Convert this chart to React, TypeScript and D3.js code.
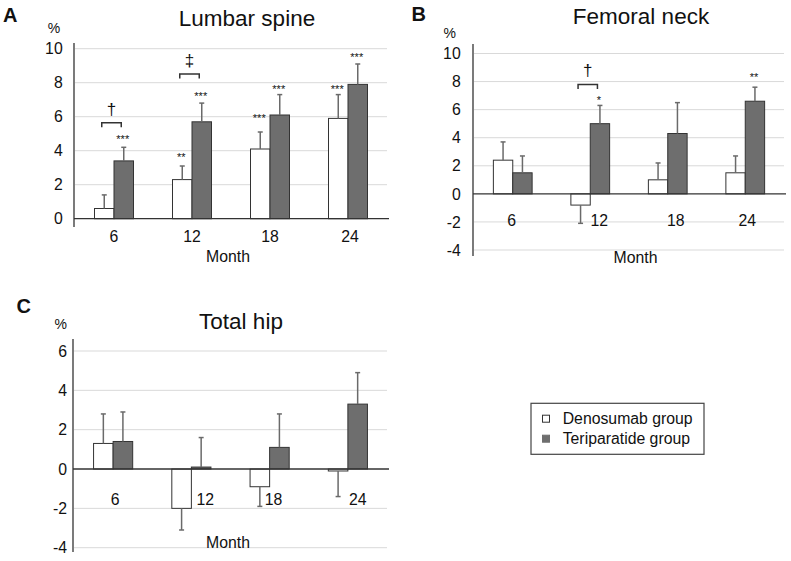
import React from "react";
import * as d3 from "d3";

// ---------- data ----------
const months = ["6", "12", "18", "24"];
const seriesNames = ["Denosumab group", "Teriparatide group"];

// Lumbar spine (% change), error = SD length
const lumbarDeno = [0.6, 2.3, 4.1, 5.9];
const lumbarDenoErr = [0.8, 0.8, 1.0, 1.4];
const lumbarTeri = [3.4, 5.7, 6.1, 7.9];
const lumbarTeriErr = [0.8, 1.1, 1.2, 1.2];

// Femoral neck
const neckDeno = [2.4, -0.8, 1.0, 1.5];
const neckDenoErr = [1.3, 1.3, 1.2, 1.2];
const neckTeri = [1.5, 5.0, 4.3, 6.6];
const neckTeriErr = [1.2, 1.3, 2.2, 1.0];

// Total hip
const hipDeno = [1.3, -2.0, -0.9, -0.1];
const hipDenoErr = [1.5, 1.1, 1.0, 1.3];
const hipTeri = [1.4, 0.1, 1.1, 3.3];
const hipTeriErr = [1.5, 1.5, 1.7, 1.6];

const lumbarTicks = [0, 2, 4, 6, 8, 10];
const neckTicks = [-4, -2, 0, 2, 4, 6, 8, 10];
const hipTicks = [-4, -2, 0, 2, 4, 6];

// significance stars: month index, series index, label, level (data units)
const lumbarStars = [
  { m: 0, s: 1, label: "***", v: 4.82 },
  { m: 1, s: 0, label: "**", v: 3.75 },
  { m: 1, s: 1, label: "***", v: 7.38 },
  { m: 2, s: 0, label: "***", v: 6.04 },
  { m: 2, s: 1, label: "***", v: 7.76 },
  { m: 3, s: 0, label: "***", v: 7.76 },
  { m: 3, s: 1, label: "***", v: 9.63 },
];
const neckStars = [
  { m: 1, s: 1, label: "*", v: 6.86 },
  { m: 3, s: 1, label: "**", v: 8.52 },
];
const hipStars: { m: number; s: number; label: string; v: number }[] = [];

// between-group brackets: month index, symbol, level (data units)
const lumbarBrackets = [
  { m: 0, label: "\u2020", v: 5.65 },
  { m: 1, label: "\u2021", v: 8.51 },
];
const neckBrackets = [{ m: 1, label: "\u2020", v: 7.8 }];
const hipBrackets: { m: number; label: string; v: number }[] = [];

// ---------- style ----------
const FONT = "'Liberation Sans', Arial, Helvetica, sans-serif";
const TEXT = "#111";
const GRID = "#d9d9d9";
const AXIS = "#333";
const BAR_STROKE = "#333";
const FILLS = ["#ffffff", "#6e6e6e"];
const ERR = "#6a6a6a";

type Panel = {
  letter: string;
  title: string;
  deno: number[];
  denoErr: number[];
  teri: number[];
  teriErr: number[];
  ticks: number[];
  stars: { m: number; s: number; label: string; v: number }[];
  brackets: { m: number; label: string; v: number }[];
  // layout
  x0: number;
  x1: number;
  yTopPx: number;
  yBotPx: number;
  axisTop: number;
  axisBot: number;
  tickRight: number;
  titleX: number;
  titleY: number;
  letterX: number;
  letterY: number;
  pctX: number;
  pctY: number;
  catY: number;
  catDx: number[];
  monthX: number;
  monthY: number;
};

const panels: Panel[] = [
  {
    letter: "A",
    title: "Lumbar spine",
    deno: lumbarDeno,
    denoErr: lumbarDenoErr,
    teri: lumbarTeri,
    teriErr: lumbarTeriErr,
    ticks: lumbarTicks,
    stars: lumbarStars,
    brackets: lumbarBrackets,
    x0: 75,
    x1: 387,
    yTopPx: 48.7,
    yBotPx: 218.7,
    axisTop: 43,
    axisBot: 227,
    tickRight: 62.7,
    titleX: 247,
    titleY: 26,
    letterX: 3,
    letterY: 21.7,
    pctX: 54,
    pctY: 33.3,
    catY: 241.5,
    catDx: [0, 0, 0, 2],
    monthX: 228,
    monthY: 262,
  },
  {
    letter: "B",
    title: "Femoral neck",
    deno: neckDeno,
    denoErr: neckDenoErr,
    teri: neckTeri,
    teriErr: neckTeriErr,
    ticks: neckTicks,
    stars: neckStars,
    brackets: neckBrackets,
    x0: 474,
    x1: 784,
    yTopPx: 53.5,
    yBotPx: 250,
    axisTop: 44,
    axisBot: 256,
    tickRight: 460.7,
    titleX: 641,
    titleY: 24,
    letterX: 411.5,
    letterY: 20.7,
    pctX: 449.7,
    pctY: 37.5,
    catY: 225.7,
    catDx: [-1, 9, 8, 2],
    monthX: 635.5,
    monthY: 263,
  },
  {
    letter: "C",
    title: "Total hip",
    deno: hipDeno,
    denoErr: hipDenoErr,
    teri: hipTeri,
    teriErr: hipTeriErr,
    ticks: hipTicks,
    stars: hipStars,
    brackets: hipBrackets,
    x0: 74,
    x1: 387,
    yTopPx: 351,
    yBotPx: 547.7,
    axisTop: 339,
    axisBot: 552,
    tickRight: 67,
    titleX: 241,
    titleY: 329,
    letterX: 16.5,
    letterY: 312.7,
    pctX: 60.7,
    pctY: 329.3,
    catY: 505,
    catDx: [2, 14, 4, 10],
    monthX: 228,
    monthY: 548.3,
  },
];

function ChartPanel({ p }: { p: Panel }) {
  const yMin = d3.min(p.ticks) as number;
  const yMax = d3.max(p.ticks) as number;
  const y = d3.scaleLinear().domain([yMin, yMax]).range([p.yBotPx, p.yTopPx]);
  const x = d3.scaleBand<string>().domain(months).range([p.x0, p.x1]).padding(0);
  const bw = x.bandwidth() * 0.25;
  const center = (m: number) => (x(months[m]) as number) + x.bandwidth() / 2;
  const barX = (m: number, s: number) => center(m) - bw + s * bw;
  const barCx = (m: number, s: number) => barX(m, s) + bw / 2;
  const series = [
    { vals: p.deno, errs: p.denoErr },
    { vals: p.teri, errs: p.teriErr },
  ];
  const y0 = y(0);
  const cap = 2.5;

  return (
    <g>
      {/* panel letter */}
      <text x={p.letterX} y={p.letterY} fontSize={20} fontWeight="bold" fill={TEXT} fontFamily={FONT}>
        {p.letter}
      </text>
      <text x={p.titleX} y={p.titleY} fontSize={22.5} textAnchor="middle" fill={TEXT} fontFamily={FONT}>
        {p.title}
      </text>
      <text x={p.pctX} y={p.pctY} fontSize={14} textAnchor="middle" fill={TEXT} fontFamily={FONT}>
        %
      </text>
      {/* grid */}
      {p.ticks
        .filter((t) => t !== 0)
        .map((t) => (
          <line key={"g" + t} x1={p.x0} x2={p.x1} y1={y(t)} y2={y(t)} stroke={GRID} strokeWidth={1} />
        ))}
      {/* tick labels */}
      {p.ticks.map((t) => (
        <text
          key={"t" + t}
          x={p.tickRight}
          y={y(t)}
          dy="0.36em"
          fontSize={15.8}
          textAnchor="end"
          fill={TEXT}
          fontFamily={FONT}
        >
          {t}
        </text>
      ))}
      {/* bars */}
      {series.map((s, si) =>
        s.vals.map((v, mi) => (
          <rect
            key={`b${si}-${mi}`}
            x={barX(mi, si)}
            y={Math.min(y(v), y0)}
            width={bw}
            height={Math.abs(y(v) - y0)}
            fill={FILLS[si]}
            stroke={BAR_STROKE}
            strokeWidth={1}
          />
        ))
      )}
      {/* error bars */}
      {series.map((s, si) =>
        s.vals.map((v, mi) => {
          const end = v >= 0 ? v + s.errs[mi] : v - s.errs[mi];
          const cx = barCx(mi, si);
          return (
            <g key={`e${si}-${mi}`} stroke={ERR} strokeWidth={1.5}>
              <line x1={cx} x2={cx} y1={y(v)} y2={y(end)} />
              <line x1={cx - cap} x2={cx + cap} y1={y(end)} y2={y(end)} />
            </g>
          );
        })
      )}
      {/* zero line & y axis */}
      <line x1={p.x0 - 1} x2={p.x1 + 2} y1={y0} y2={y0} stroke={AXIS} strokeWidth={1.3} />
      <line x1={p.x0 - 1} x2={p.x0 - 1} y1={p.axisTop} y2={p.axisBot} stroke={AXIS} strokeWidth={1.3} />
      {/* category labels */}
      {months.map((m, i) => (
        <text
          key={"c" + m}
          x={center(i) + p.catDx[i]}
          y={p.catY}
          fontSize={15.8}
          textAnchor="middle"
          fill={TEXT}
          fontFamily={FONT}
        >
          {m}
        </text>
      ))}
      <text x={p.monthX} y={p.monthY} fontSize={15.8} textAnchor="middle" fill={TEXT} fontFamily={FONT}>
        Month
      </text>
      {/* stars */}
      {p.stars.map((st, i) => (
        <text
          key={"s" + i}
          x={barCx(st.m, st.s) - 1}
          y={y(st.v) + 6.4}
          fontSize={11}
          textAnchor="middle"
          fill={TEXT}
          fontFamily={FONT}
        >
          {st.label}
        </text>
      ))}
      {/* brackets */}
      {p.brackets.map((b, i) => {
        const xa = barCx(b.m, 0) - 2.5;
        const xb = barCx(b.m, 1) - 2.5;
        const yb = y(b.v);
        return (
          <g key={"br" + i}>
            <path
              d={`M${xa},${yb + 4.5}V${yb}H${xb}V${yb + 4.5}`}
              fill="none"
              stroke={AXIS}
              strokeWidth={1.5}
            />
            <text
              x={(xa + xb) / 2}
              y={yb - 8}
              fontSize={17}
              textAnchor="middle"
              fill={TEXT}
              fontFamily={FONT}
            >
              {b.label}
            </text>
          </g>
        );
      })}
    </g>
  );
}

function Legend() {
  const bx = 531;
  const by = 403.3;
  const rowY = [418.7, 438.7];
  return (
    <g>
      <rect x={bx} y={by} width={173} height={51} fill="#fff" stroke="#444" strokeWidth={1.2} />
      {seriesNames.map((n, i) => (
        <g key={n}>
          <rect
            x={542.5}
            y={rowY[i] - 3.5}
            width={7}
            height={7}
            fill={FILLS[i]}
            stroke={i === 0 ? "#333" : FILLS[i]}
            strokeWidth={1}
          />
          <text x={562.7} y={rowY[i]} dy="0.36em" fontSize={15.8} fill={TEXT} fontFamily={FONT}>
            {n}
          </text>
        </g>
      ))}
    </g>
  );
}

export default function App() {
  return (
    <svg
      width={791}
      height={561}
      viewBox="0 0 791 561"
      style={{ position: "absolute", left: 0, top: 0, background: "#fff" }}
    >
      <rect width={791} height={561} fill="#fff" />
      {panels.map((p) => (
        <ChartPanel key={p.letter} p={p} />
      ))}
      <Legend />
    </svg>
  );
}
